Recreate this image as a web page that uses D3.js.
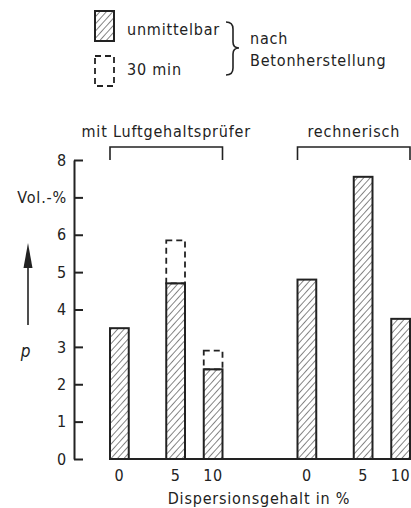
<!DOCTYPE html>
<html>
<head>
<meta charset="utf-8">
<script src="https://cdn.jsdelivr.net/npm/d3@7/dist/d3.min.js"></script>
<style>
  html, body { margin: 0; padding: 0; background: #fff; }
  svg text { font-family: "DejaVu Sans Condensed", "DejaVu Sans", sans-serif; fill: #222; letter-spacing: 0.8px; }
</style>
</head>
<body>
<svg id="chart" width="411" height="508"></svg>
<script>
// data
var groups = ['mit Luftgehaltsprüfer', 'rechnerisch'];
var dispersion = [0, 5, 10];
var immediate = [[3.5, 4.7, 2.4], [4.8, 7.55, 3.75]];
var after30 = [[null, 5.85, 2.9], [null, null, null]];
var yTicks = [0, 1, 2, 3, 4, 5, 6, 7, 8];
var yTickLabels = ['0', '1', '2', '3', '4', '5', '6', 'Vol.-%', '8'];
var legendLabels = ['unmittelbar', '30 min'];
var braceLabel = ['nach', 'Betonherstellung'];
var xTitle = 'Dispersionsgehalt in %';
var yVar = 'p';

var ink = '#222';
var fs = 16;
var svg = d3.select('#chart');

var defs = svg.append('defs');
var pat = defs.append('pattern')
  .attr('id', 'hatch')
  .attr('patternUnits', 'userSpaceOnUse')
  .attr('width', 4.8).attr('height', 4.8)
  .attr('patternTransform', 'rotate(42)');
pat.append('line')
  .attr('x1', 0).attr('y1', 0).attr('x2', 0).attr('y2', 4.8)
  .attr('stroke', ink).attr('stroke-width', 1.1);

// layout: 16 slots across the plot, group offset + inner offset per dispersion
var slot = d3.scaleLinear().domain([0, 16]).range([110, 410]);
var groupOffset = d3.scaleOrdinal().domain(groups).range([0, 10]);
var innerOffset = d3.scaleOrdinal().domain(dispersion).range([0, 3, 5]);
var y = d3.scaleLinear().domain([0, 8]).range([459, 160]);

var bars = [];
groups.forEach(function (g, gi) {
  dispersion.forEach(function (d, di) {
    bars.push({ group: g, disp: d, v: immediate[gi][di], v30: after30[gi][di] });
  });
});
function bx(b) { return slot(groupOffset(b.group) + innerOffset(b.disp)); }
var bw = slot(1) - slot(0);

// y axis
var yAxis = d3.axisLeft(y)
  .tickValues(yTicks)
  .tickSize(-9)
  .tickSizeOuter(0)
  .tickPadding(7)
  .tickFormat(function (d, i) { return yTickLabels[i]; });
var ya = svg.append('g').attr('transform', 'translate(74,0)').call(yAxis);
ya.selectAll('path, line').attr('stroke', ink).attr('stroke-width', 2);
ya.selectAll('text').attr('font-size', fs).attr('fill', ink)
  .style('font-family', '"DejaVu Sans Condensed", sans-serif');

// dashed 30 min bars
svg.append('g').selectAll('rect')
  .data(bars.filter(function (b) { return b.v30 != null; }))
  .join('rect')
  .attr('x', bx)
  .attr('y', function (b) { return y(b.v30); })
  .attr('width', bw)
  .attr('height', function (b) { return y(b.v) - y(b.v30); })
  .attr('fill', 'none')
  .attr('stroke', ink).attr('stroke-width', 1.8)
  .attr('stroke-dasharray', '6,4');

// hatched bars
svg.append('g').selectAll('rect')
  .data(bars)
  .join('rect')
  .attr('x', bx)
  .attr('y', function (b) { return y(b.v); })
  .attr('width', bw)
  .attr('height', function (b) { return y(0) - y(b.v); })
  .attr('fill', 'url(#hatch)')
  .attr('stroke', ink).attr('stroke-width', 2);

// baseline
svg.append('line')
  .attr('x1', slot(0)).attr('x2', slot(16))
  .attr('y1', y(0)).attr('y2', y(0))
  .attr('stroke', ink).attr('stroke-width', 2);

// x tick labels
svg.append('g').selectAll('text')
  .data(bars)
  .join('text')
  .attr('x', function (b) { return bx(b) + bw / 2; })
  .attr('y', 481)
  .attr('text-anchor', 'middle')
  .attr('font-size', fs)
  .text(function (b) { return b.disp; });

svg.append('text')
  .attr('x', 259).attr('y', 504)
  .attr('text-anchor', 'middle')
  .attr('font-size', fs)
  .text(xTitle);

// group brackets
groups.forEach(function (g) {
  var x0 = slot(groupOffset(g)), x1 = slot(groupOffset(g) + 6);
  if (g === groups[1]) { x1 = slot(16); }
  svg.append('path')
    .attr('d', 'M' + x0 + ',160V147H' + x1 + 'V160')
    .attr('fill', 'none').attr('stroke', ink).attr('stroke-width', 1.6);
  svg.append('text')
    .attr('x', (x0 + x1) / 2).attr('y', 137)
    .attr('text-anchor', 'middle')
    .attr('font-size', fs)
    .text(g);
});

// arrow + variable
svg.append('line')
  .attr('x1', 28).attr('x2', 28).attr('y1', 325).attr('y2', 262)
  .attr('stroke', ink).attr('stroke-width', 1.6);
svg.append('path')
  .attr('d', 'M28,243L32.5,268L23.5,268Z')
  .attr('fill', ink);
svg.append('text')
  .attr('x', 26).attr('y', 357)
  .attr('text-anchor', 'middle')
  .attr('font-size', 17)
  .attr('font-style', 'italic')
  .text(yVar);

// legend
var lg = svg.append('g');
lg.append('rect')
  .attr('x', 95).attr('y', 11).attr('width', 19).attr('height', 30)
  .attr('fill', 'url(#hatch)').attr('stroke', ink).attr('stroke-width', 2);
lg.append('rect')
  .attr('x', 95).attr('y', 56).attr('width', 19).attr('height', 30)
  .attr('fill', 'none').attr('stroke', ink).attr('stroke-width', 1.8)
  .attr('stroke-dasharray', '6,4');
lg.selectAll('text.item')
  .data(legendLabels)
  .join('text')
  .attr('class', 'item')
  .attr('x', 127)
  .attr('y', function (d, i) { return 35 + i * 40; })
  .attr('font-size', fs)
  .text(function (d) { return d; });
lg.append('path')
  .attr('d', 'M226,22Q233,22 233,29L233,42Q233,48 239,48Q233,48 233,54L233,68Q233,75 226,75')
  .attr('fill', 'none').attr('stroke', ink).attr('stroke-width', 1.6);
lg.selectAll('text.brace')
  .data(braceLabel)
  .join('text')
  .attr('class', 'brace')
  .attr('x', 250)
  .attr('y', function (d, i) { return 44 + i * 22; })
  .attr('font-size', fs)
  .text(function (d) { return d; });
</script>
</body>
</html>
